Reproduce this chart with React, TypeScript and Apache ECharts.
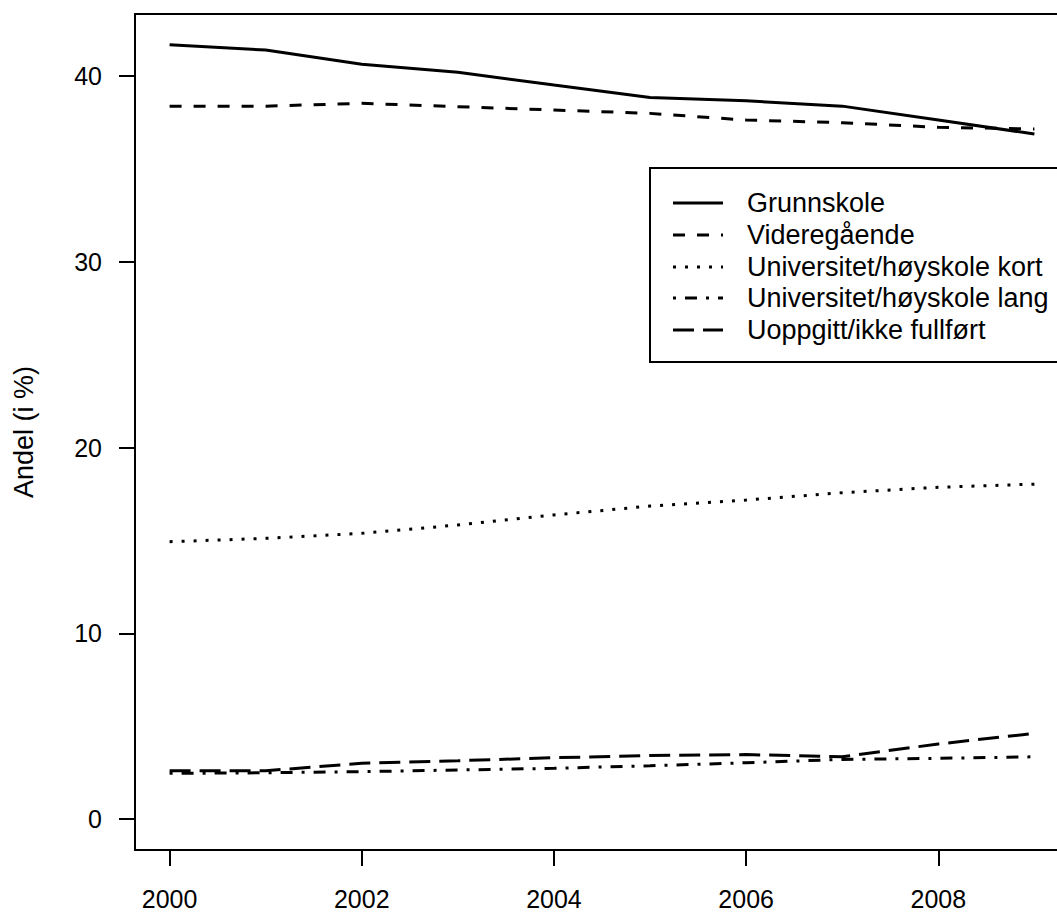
import React, { useEffect, useRef } from "react";
import * as echarts from "echarts";

const years = [2000, 2001, 2002, 2003, 2004, 2005, 2006, 2007, 2008, 2009];
const grunnskole = [41.68, 41.4, 40.63, 40.2, 39.52, 38.85, 38.67, 38.38, 37.63, 36.88];
const videregaende = [38.38, 38.38, 38.53, 38.35, 38.17, 37.99, 37.63, 37.49, 37.24, 37.15];
const uniKort = [14.93, 15.11, 15.38, 15.83, 16.37, 16.85, 17.17, 17.57, 17.86, 18.03];
const uniLang = [2.46, 2.49, 2.55, 2.64, 2.73, 2.87, 3.03, 3.21, 3.27, 3.35];
const uoppgitt = [2.6, 2.6, 3.0, 3.14, 3.3, 3.42, 3.47, 3.35, 4.04, 4.61];

const xTicks = [2000, 2002, 2004, 2006, 2008];
const yTicks = [0, 10, 20, 30, 40];

const seriesNames = [
  "Grunnskole",
  "Videregående",
  "Universitet/høyskole kort",
  "Universitet/høyskole lang",
  "Uoppgitt/ikke fullført",
];
const seriesData = [grunnskole, videregaende, uniKort, uniLang, uoppgitt];
const dashes: (number[] | null)[] = [null, [12, 12], [3, 9], [3, 9, 12, 9], [21, 9]];

const FONT = "'Liberation Sans', Arial, Helvetica, sans-serif";
const CHART_W = 1072;

export default function App() {
  const ref = useRef<HTMLDivElement>(null);
  useEffect(() => {
    if (!ref.current) return;
    const chart = echarts.init(ref.current, undefined, { renderer: "svg" });
    const legendRows = [203, 235, 267, 298, 330];
    const graphic: any[] = [
      {
        type: "text",
        x: 24,
        y: 432,
        rotation: Math.PI / 2,
        style: {
          text: "Andel (i %)",
          font: `27px ${FONT}`,
          fill: "#000",
          align: "center",
          verticalAlign: "middle",
        },
      },
      {
        type: "rect",
        shape: { x: 650, y: 168, width: 440, height: 194 },
        style: { fill: "#fff", stroke: "#000", lineWidth: 2 },
        z: 10,
      },
    ];
    seriesNames.forEach((name, i) => {
      const d = dashes[i];
      graphic.push({
        type: "line",
        shape: { x1: 673, y1: legendRows[i], x2: 723, y2: legendRows[i] },
        style: { stroke: "#000", lineWidth: 3, lineDash: d || undefined },
        z: 11,
      });
      graphic.push({
        type: "text",
        x: 747,
        y: legendRows[i],
        style: {
          text: name,
          font: `27px ${FONT}`,
          fill: "#000",
          align: "left",
          verticalAlign: "middle",
        },
        z: 11,
      });
    });

    chart.setOption({
      animation: false,
      backgroundColor: "#fff",
      textStyle: { fontFamily: FONT },
      grid: {
        left: 135,
        top: 14,
        right: CHART_W - 1069,
        bottom: 63,
        show: true,
        borderColor: "#000",
        borderWidth: 2,
        backgroundColor: "transparent",
      },
      xAxis: {
        type: "value",
        min: 1999.64,
        max: 2009.36,
        splitLine: { show: false },
        axisLine: { show: false, onZero: false },
        axisTick: {
          show: true,
          length: 16,
          inside: false,
          lineStyle: { color: "#000", width: 2 },
          customValues: xTicks,
        },
        axisLabel: {
          color: "#000",
          fontSize: 25,
          fontFamily: FONT,
          margin: 36,
          customValues: xTicks,
          formatter: (v: number) => String(v),
        },
      },
      yAxis: {
        type: "value",
        min: -1.667,
        max: 43.34,
        splitLine: { show: false },
        axisLine: { show: false, onZero: false },
        axisTick: {
          show: true,
          length: 16,
          inside: false,
          lineStyle: { color: "#000", width: 2 },
          customValues: yTicks,
        },
        axisLabel: {
          color: "#000",
          fontSize: 25,
          fontFamily: FONT,
          margin: 33,
          customValues: yTicks,
        },
      },
      series: seriesNames.map((name, i) => ({
        name,
        type: "line",
        data: years.map((y, j) => [y, seriesData[i][j]]),
        showSymbol: false,
        symbol: "none",
        lineStyle: {
          color: "#000",
          width: 3,
          type: dashes[i] || "solid",
          cap: "butt",
        },
      })),
      graphic,
    });
    return () => chart.dispose();
  }, []);
  return (
    <div
      style={{
        width: 1057,
        height: 913,
        position: "absolute",
        left: 0,
        top: 0,
        overflow: "hidden",
        background: "#fff",
      }}
    >
      <div ref={ref} style={{ width: CHART_W, height: 913 }} />
    </div>
  );
}
